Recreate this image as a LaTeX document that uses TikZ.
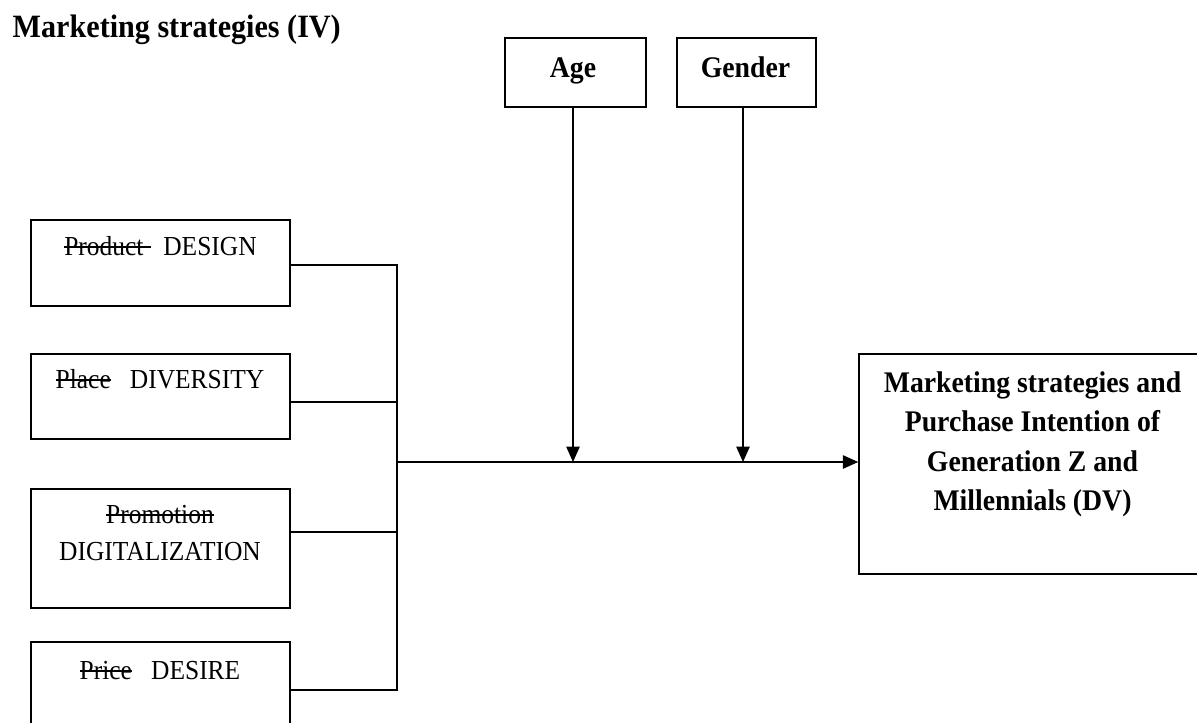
\documentclass[tikz,border=0pt]{standalone}
\usepackage{fontspec}
\setmainfont{Liberation Serif}
\usetikzlibrary{arrows.meta,fit}
\newsavebox{\strkbox}
\newcommand{\strk}[1]{\sbox{\strkbox}{#1}\rlap{\rule[0.26em]{\wd\strkbox}{0.08em}}\usebox{\strkbox}}
\newcommand{\vst}[1]{\scalebox{1}[1.08]{#1}}
\begin{document}
\begin{tikzpicture}[x=0.75pt,y=-0.75pt, line width=1.1pt,
  box/.style={draw, line width=1.1pt, inner sep=0pt},
  arr/.style={-{Triangle[length=11.5pt,width=10pt]}},
  lbl/.style={font=\fontsize{19.1}{27.75}\selectfont, anchor=base, inner sep=0pt},
  bld/.style={font=\fontsize{20.8}{29.5}\selectfont\bfseries, anchor=base, inner sep=0pt},
  ttl/.style={font=\fontsize{22.6}{29.5}\selectfont\bfseries, anchor=base west, inner sep=0pt},
]
\useasboundingbox (0,0) rectangle (1197,722);
\clip (0,0) rectangle (1197,722);

% title
\node[ttl] (title) at (12,37) {\vst{Marketing strategies (IV)}};

% left boxes
\node[box, fit={(31,220) (290,306)}] (b1) {};
\node[lbl] (t1) at (160.5,255) {\vst{\strk{Product\hspace{0.28em}}\hspace{0.5em}DESIGN}};
\node[box, fit={(31,354) (290,439)}] (b2) {};
\node[lbl] (t2) at (160,388) {\vst{\strk{Place}\hspace{0.75em}DIVERSITY}};
\node[box, fit={(31,489) (290,608)}] (b3) {};
\node[lbl] (t3a) at (160,523) {\vst{\strk{Promotion}}};
\node[lbl] (t3b) at (160,560) {\vst{DIGITALIZATION}};
\node[box, fit={(31,642) (290,770)}] (b4) {};
\node[lbl] (t4) at (160,679) {\vst{\strk{Price}\hspace{0.75em}DESIRE}};

% moderators
\node[box, fit={(505,38) (646,107)}] (age) {};
\node[bld] (agetxt) at (573,77) {\vst{Age}};
\node[box, fit={(677,38) (816,107)}] (gender) {};
\node[bld] (gendertxt) at (745.5,77) {\vst{Gender}};

% dependent variable
\node[box, fit={(859,354) (1206,574)}] (dv) {};
\node[bld] (dv1) at (1032.5,392) {\vst{Marketing strategies and}};
\node[bld] (dv2) at (1032.5,431.5) {\vst{Purchase Intention of}};
\node[bld] (dv3) at (1032.5,471) {\vst{Generation Z and}};
\node[bld] (dv4) at (1032.5,510) {\vst{Millennials (DV)}};

% connectors
\coordinate (c1) at (397,265);
\coordinate (c2) at (397,402);
\coordinate (c3) at (397,532);
\coordinate (c4) at (397,690);
\coordinate (m) at (397,462);
\coordinate (j1) at (573,462);
\coordinate (j2) at (743,462);

\draw (b1.east |- c1) -- (c1) -- (c4) -- (b4.east |- c4);
\draw (b2.east |- c2) -- (c2);
\draw (b3.east |- c3) -- (c3);
\draw[arr] (m) -- (dv.west |- m);
\draw[arr] (age.south -| j1) -- (j1);
\draw[arr] (gender.south -| j2) -- (j2);
\end{tikzpicture}
\end{document}
